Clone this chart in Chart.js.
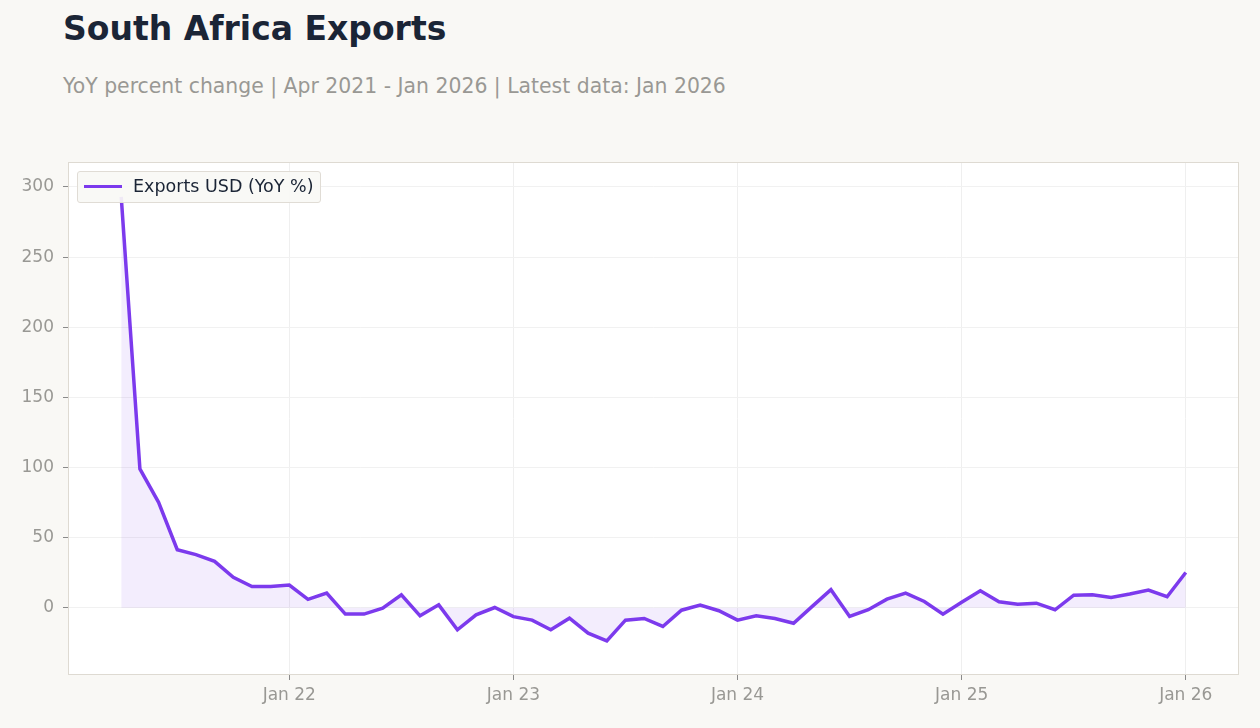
<!DOCTYPE html>
<html>
<head>
<meta charset="utf-8">
<script src="https://cdn.jsdelivr.net/npm/chart.js@4.4.1/dist/chart.umd.min.js"></script>
<style>
  html, body { margin: 0; padding: 0; background: #f9f8f5; }
  #wrap { position: relative; width: 1260px; height: 728px; overflow: hidden; font-family: "DejaVu Sans", sans-serif; }
  #title { position: absolute; left: 63px; top: 9px; font-size: 33px; font-weight: bold; color: #1b2536; white-space: nowrap; }
  #subtitle { position: absolute; left: 63px; top: 74px; font-size: 20.4px; color: #999894; white-space: nowrap; }
  #chart { position: absolute; left: 0; top: 0; }
  #legend { position: absolute; left: 77px; top: 171px; width: 242px; height: 30px; background: rgba(249,248,245,0.92);
            border: 1px solid #e0dcd5; border-radius: 3px; }
  #legend .swatch { position: absolute; left: 6px; top: 13px; width: 38px; height: 3px; background: #7c3aed; }
  #legend .label { position: absolute; left: 55px; top: 4px; font-size: 17.5px; color: #1b2536; white-space: nowrap; }
</style>
</head>
<body>
<div id="wrap">
  <div id="title">South Africa Exports</div>
  <div id="subtitle">YoY percent change | Apr 2021 - Jan 2026 | Latest data: Jan 2026</div>
  <canvas id="chart" width="1260" height="728"></canvas>
  <div id="legend"><div class="swatch"></div><div class="label">Exports USD (YoY %)</div></div>
</div>
<script>
// months counted from Jan 2021 = 0, first point Apr 2021
var startMonth = 3;
var yoy = [
  293, 99, 75.2, 41.4, 37.9, 33.1, 21.7, 15.2, 15.2,
  16.2, 6, 10.5, -4.5, -4.5, -0.2, 9.3, -5.7, 2.1, -15.7, -5, 0.2,
  -6.3, -8.8, -15.7, -7.4, -18.1, -23.6, -8.8, -7.6, -13.3, -1.7, 1.9, -2.1,
  -8.8, -5.7, -7.6, -11, 1, 12.9, -6.2, -1.4, 6.2, 10.5, 4.5, -4.5,
  4, 12.1, 4.3, 2.6, 3.3, -1.4, 9, 9.3, 7.4, 9.8, 12.6, 7.9,
  25.2
];
var xTicks = [12, 24, 36, 48, 60];
var xTickLabels = ["Jan 22", "Jan 23", "Jan 24", "Jan 25", "Jan 26"];
var yTicks = [0, 50, 100, 150, 200, 250, 300];

var points = yoy.map(function (v, i) { return { x: startMonth + i, y: v }; });

var plotBg = {
  id: 'plotBg',
  beforeDraw: function (chart) {
    var c = chart.ctx, a = chart.chartArea;
    c.save();
    c.fillStyle = '#ffffff';
    c.fillRect(a.left, a.top, a.right - a.left, a.bottom - a.top);
    c.restore();
  },
  afterDraw: function (chart) {
    var c = chart.ctx, a = chart.chartArea;
    c.save();
    c.strokeStyle = '#dedad2';
    c.lineWidth = 1;
    c.strokeRect(a.left + 0.5, a.top + 0.5, a.right - a.left - 1, a.bottom - a.top - 1);
    c.restore();
  }
};

var ctx = document.getElementById("chart").getContext('2d');
var myChart = new Chart(ctx, {
    type: 'line',
    data: {
        datasets: [{
            label: "Exports USD (YoY %)",
            data: points,
            borderColor: "#7c3aed",
            backgroundColor: "rgba(124,58,237,0.09)",
            borderWidth: 3.5,
            pointRadius: 0,
            tension: 0,
            fill: 'origin'
        }]
    },
    options: {
        responsive: false,
        animation: false,
        layout: { padding: { top: 162, right: 21, left: 0, bottom: 0 } },
        plugins: { legend: { display: false }, tooltip: { enabled: false } },
        scales: {
            x: {
                type: 'linear',
                min: 0.15,
                max: 62.85,
                afterBuildTicks: function (s) { s.ticks = xTicks.map(function (v) { return { value: v }; }); },
                afterFit: function (s) { s.height = 53; },
                ticks: {
                    color: '#999894',
                    font: { family: 'DejaVu Sans', size: 17 },
                    padding: 5,
                    maxRotation: 0,
                    callback: function (v) { return xTickLabels[xTicks.indexOf(v)]; }
                },
                grid: { color: '#efefef', tickColor: '#8a8a8a', tickLength: 5 },
                border: { display: false }
            },
            y: {
                min: -47.9,
                max: 317.8,
                afterBuildTicks: function (s) { s.ticks = yTicks.map(function (v) { return { value: v }; }); },
                afterFit: function (s) { s.width = 68; },
                ticks: {
                    color: '#999894',
                    font: { family: 'DejaVu Sans', size: 17 },
                    padding: 9
                },
                grid: { color: '#f1f1f1', tickColor: '#8a8a8a', tickLength: 5 },
                border: { display: false }
            }
        }
    },
    plugins: [plotBg]
});
</script>
</body>
</html>
